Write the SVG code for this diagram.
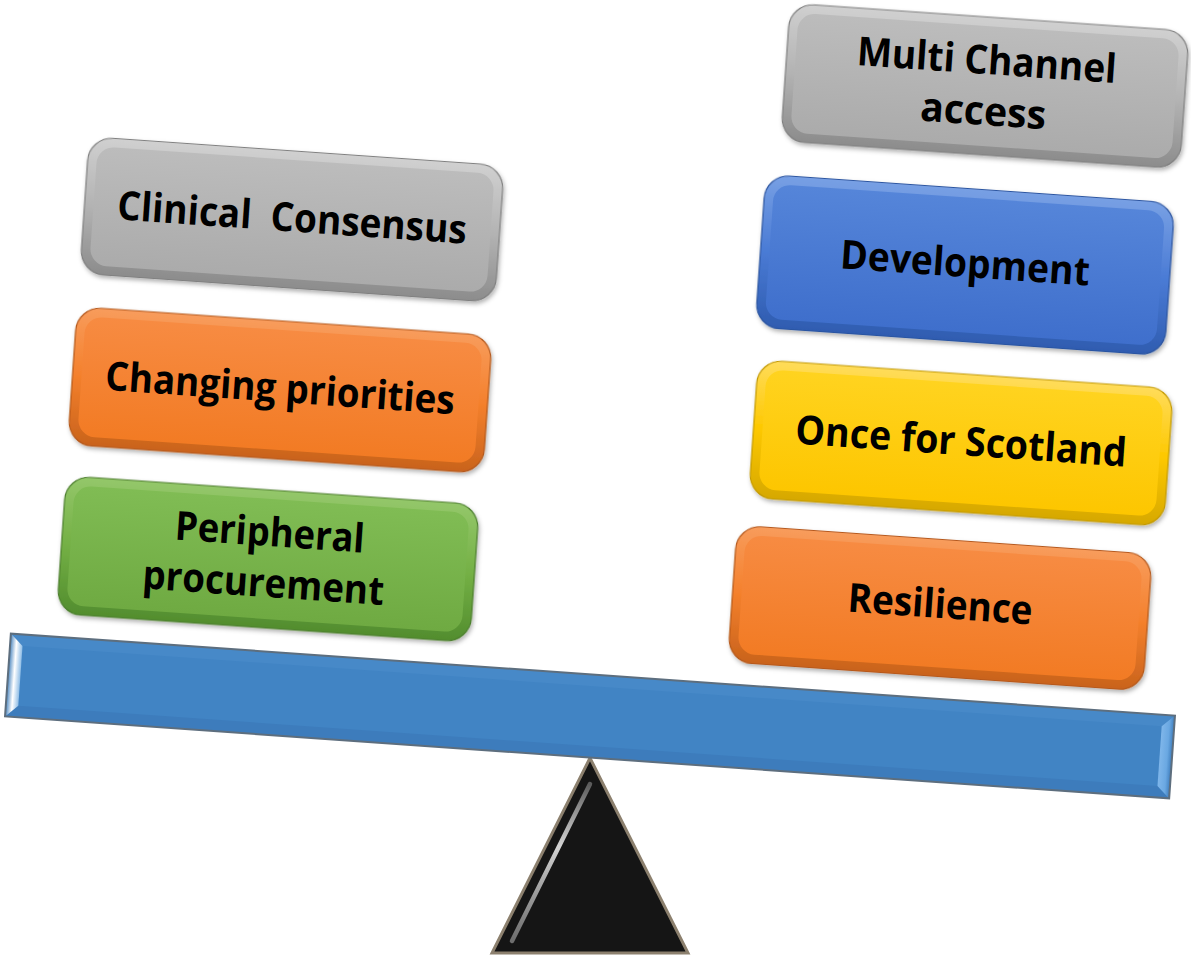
<svg xmlns="http://www.w3.org/2000/svg" width="1191" height="959" viewBox="0 0 1191 959">
<style>
  .lbl { font-family: "Open Sans", "Noto Sans", "Liberation Sans", sans-serif; font-weight: 700; font-size: 40px; fill: #000; text-anchor: middle; }
  .hl { fill: none; stroke: url(#hlGrad); stroke-width: 3.5; stroke-linecap: round; }
</style>
<defs>
  <filter id="sh" x="-10%" y="-10%" width="120%" height="130%">
    <feDropShadow dx="1.5" dy="2.5" stdDeviation="2" flood-color="#000" flood-opacity="0.3"/>
  </filter>
  <linearGradient id="hlGrad" x1="0" y1="0" x2="0" y2="1">
    <stop offset="0" stop-color="#fff" stop-opacity="0.2"/>
    <stop offset="0.3" stop-color="#fff" stop-opacity="0.85"/>
    <stop offset="0.8" stop-color="#fff" stop-opacity="0.7"/>
    <stop offset="1" stop-color="#fff" stop-opacity="0.1"/>
  </linearGradient>
  <linearGradient id="grayO" x1="0" y1="0" x2="0" y2="1"><stop offset="0" stop-color="#d0d0d0"/><stop offset="0.5" stop-color="#b3b3b3"/><stop offset="1" stop-color="#8c8c8c"/></linearGradient>
  <linearGradient id="grayI" x1="0" y1="0" x2="0" y2="1"><stop offset="0" stop-color="#bcbcbc"/><stop offset="1" stop-color="#ababab"/></linearGradient>
  <linearGradient id="orO" x1="0" y1="0" x2="0" y2="1"><stop offset="0" stop-color="#f89c5c"/><stop offset="0.5" stop-color="#f4802c"/><stop offset="1" stop-color="#c9631c"/></linearGradient>
  <linearGradient id="orI" x1="0" y1="0" x2="0" y2="1"><stop offset="0" stop-color="#f78b42"/><stop offset="1" stop-color="#f27b24"/></linearGradient>
  <linearGradient id="grO" x1="0" y1="0" x2="0" y2="1"><stop offset="0" stop-color="#94c76a"/><stop offset="0.5" stop-color="#74b045"/><stop offset="1" stop-color="#528d2e"/></linearGradient>
  <linearGradient id="grI" x1="0" y1="0" x2="0" y2="1"><stop offset="0" stop-color="#80bc54"/><stop offset="1" stop-color="#6faa42"/></linearGradient>
  <linearGradient id="blO" x1="0" y1="0" x2="0" y2="1"><stop offset="0" stop-color="#78a0e4"/><stop offset="0.5" stop-color="#4a7bd5"/><stop offset="1" stop-color="#2f5cb0"/></linearGradient>
  <linearGradient id="blI" x1="0" y1="0" x2="0" y2="1"><stop offset="0" stop-color="#5585d9"/><stop offset="1" stop-color="#3f6fcc"/></linearGradient>
  <linearGradient id="yeO" x1="0" y1="0" x2="0" y2="1"><stop offset="0" stop-color="#ffdc5a"/><stop offset="0.5" stop-color="#fdc800"/><stop offset="1" stop-color="#d6a800"/></linearGradient>
  <linearGradient id="yeI" x1="0" y1="0" x2="0" y2="1"><stop offset="0" stop-color="#ffd31f"/><stop offset="1" stop-color="#fdc600"/></linearGradient>
  <linearGradient id="bevL" x1="0" y1="0" x2="1" y2="0"><stop offset="0" stop-color="#4a86c0"/><stop offset="0.5" stop-color="#ffffff"/><stop offset="1" stop-color="#8fbde6"/></linearGradient>
  <linearGradient id="bevR" x1="0" y1="0" x2="1" y2="0"><stop offset="0" stop-color="#7fb6ea"/><stop offset="0.6" stop-color="#6aa8e2"/><stop offset="1" stop-color="#3e7dbd"/></linearGradient>
  <linearGradient id="triHl" x1="0" y1="0" x2="0" y2="1"><stop offset="0" stop-color="#ffffff" stop-opacity="0.3"/><stop offset="0.4" stop-color="#e8e8e8" stop-opacity="0.9"/><stop offset="1" stop-color="#aaaaaa" stop-opacity="0.6"/></linearGradient>
</defs>

<!-- fulcrum -->
<g id="fulcrum">
  <polygon points="590,758 492,953 688,953" fill="#151515" stroke="#8c806e" stroke-width="3" stroke-linejoin="miter"/>
  <path d="M590,784 L512,941" fill="none" stroke="url(#triHl)" stroke-width="4.5" stroke-linecap="round"/>
</g>

<!-- beam -->
<g id="beam" transform="translate(590,716) rotate(4.03)">
  <rect x="-583.5" y="-41.5" width="1167" height="83" fill="#4184c4"/>
  <polygon points="-583.5,-41.5 583.5,-41.5 571,-30 -571,-30" fill="#4789c8"/>
  <polygon points="-583.5,41.5 583.5,41.5 571,30 -571,30" fill="#3d7cbc"/>
  <polygon points="-583.5,-41.5 -571,-30 -571,30 -583.5,41.5" fill="url(#bevL)"/>
  <polygon points="583.5,-41.5 571,-30 571,30 583.5,41.5" fill="url(#bevR)"/>
  <rect x="-583.5" y="-41.5" width="1167" height="83" fill="none" stroke="#5d6e7e" stroke-width="2"/>
</g>

<!-- left stack -->
<g id="clinical-consensus" transform="translate(292,219.5) rotate(4)">
  <rect x="-208" y="-68.5" width="416" height="137" rx="24" fill="url(#grayO)" stroke="#808080" stroke-width="1.2" filter="url(#sh)"/>
  <rect x="-199" y="-59.5" width="398" height="119" rx="17" fill="url(#grayI)"/>
  <path class="hl" d="M-202,-44 L-202,44"/>
  <text class="lbl" x="0" y="12" textLength="350" lengthAdjust="spacingAndGlyphs" xml:space="preserve">Clinical  Consensus</text>
</g>

<g id="changing-priorities" transform="translate(280,390) rotate(4)">
  <rect x="-208" y="-69" width="416" height="138" rx="24" fill="url(#orO)" stroke="#b5581a" stroke-width="1.2" filter="url(#sh)"/>
  <rect x="-199" y="-60" width="398" height="120" rx="17" fill="url(#orI)"/>
  <path class="hl" d="M-202,-44 L-202,44"/>
  <text class="lbl" x="0" y="12" textLength="350" lengthAdjust="spacingAndGlyphs">Changing priorities</text>
</g>

<g id="peripheral-procurement" transform="translate(268,559) rotate(4)">
  <rect x="-207" y="-69" width="414" height="138" rx="24" fill="url(#grO)" stroke="#4c7f2d" stroke-width="1.2" filter="url(#sh)"/>
  <rect x="-198" y="-60" width="396" height="120" rx="17" fill="url(#grI)"/>
  <path class="hl" d="M-201,-44 L-201,44"/>
  <text class="lbl" x="0" y="-13" textLength="190" lengthAdjust="spacingAndGlyphs">Peripheral</text>
  <text class="lbl" x="-3" y="38" textLength="242" lengthAdjust="spacingAndGlyphs">procurement</text>
</g>

<!-- right stack -->
<g id="multi-channel-access" transform="translate(985,86) rotate(4)">
  <rect x="-200" y="-69" width="400" height="138" rx="24" fill="url(#grayO)" stroke="#808080" stroke-width="1.2" filter="url(#sh)"/>
  <rect x="-191" y="-60" width="382" height="120" rx="17" fill="url(#grayI)"/>
  <path class="hl" d="M-194,-44 L-194,44"/>
  <text class="lbl" x="0" y="-12" textLength="260" lengthAdjust="spacingAndGlyphs">Multi Channel</text>
  <text class="lbl" x="0" y="39" textLength="126" lengthAdjust="spacingAndGlyphs">access</text>
</g>

<g id="development" transform="translate(965,265) rotate(4)">
  <rect x="-205" y="-76.5" width="410" height="153" rx="24" fill="url(#blO)" stroke="#2c55a0" stroke-width="1.2" filter="url(#sh)"/>
  <rect x="-196" y="-67.5" width="392" height="135" rx="17" fill="url(#blI)"/>
  <path class="hl" d="M-199,-50 L-199,50"/>
  <text class="lbl" x="0" y="12" textLength="250" lengthAdjust="spacingAndGlyphs">Development</text>
</g>

<g id="once-for-scotland" transform="translate(961,443) rotate(4)">
  <rect x="-208" y="-69" width="416" height="138" rx="24" fill="url(#yeO)" stroke="#c49a00" stroke-width="1.2" filter="url(#sh)"/>
  <rect x="-199" y="-60" width="398" height="120" rx="17" fill="url(#yeI)"/>
  <path class="hl" d="M-202,-44 L-202,44"/>
  <text class="lbl" x="0" y="12" textLength="332" lengthAdjust="spacingAndGlyphs">Once for Scotland</text>
</g>

<g id="resilience" transform="translate(940,608) rotate(4)">
  <rect x="-208" y="-68.5" width="416" height="137" rx="24" fill="url(#orO)" stroke="#b5581a" stroke-width="1.2" filter="url(#sh)"/>
  <rect x="-199" y="-59.5" width="398" height="119" rx="17" fill="url(#orI)"/>
  <path class="hl" d="M-202,-44 L-202,44"/>
  <text class="lbl" x="0" y="10" textLength="185" lengthAdjust="spacingAndGlyphs">Resilience</text>
</g>
</svg>
